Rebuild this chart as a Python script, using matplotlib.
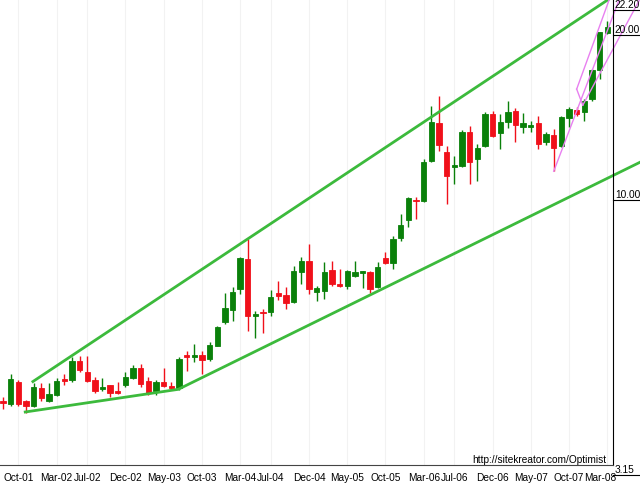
import numpy as np
import pandas as pd
import matplotlib
matplotlib.use("Agg")
import matplotlib.pyplot as plt
import matplotlib.transforms as mtransforms

# monthly candles, Aug-01 .. Mar-08
months = pd.date_range("2001-08-01", periods=80, freq="MS")

opens = [4.31, 4.25, 4.67, 4.30, 4.21, 4.54, 4.30, 4.42, 4.73, 4.71,
         5.09, 4.86, 4.71, 4.52, 4.60, 4.48, 4.60, 4.75, 4.94, 4.69,
         4.48, 4.67, 4.58, 4.54, 5.22, 5.17, 5.22, 5.13, 5.42, 6.00,
         6.30, 6.88, 7.80, 6.15, 6.25, 6.25, 6.77, 6.71, 6.52, 7.39,
         7.74, 6.80, 6.82, 7.45, 7.03, 6.97, 7.27, 7.36, 7.39, 6.94,
         7.83, 7.67, 8.53, 9.19, 10.00, 9.96, 11.78, 13.82, 12.24, 11.49,
         11.54, 13.31, 11.88, 12.55, 14.36, 13.24, 13.88, 14.54, 13.59, 13.59,
         13.82, 12.76, 13.14, 12.55, 14.11, 14.60, 14.48, 15.28, 17.27, 20.17]
highs = [4.37, 4.82, 4.71, 4.33, 4.65, 4.65, 4.65, 4.75, 4.82, 5.17,
         5.20, 5.20, 4.77, 4.75, 4.61, 4.67, 4.86, 5.00, 5.03, 4.77,
         4.71, 4.94, 4.67, 5.17, 5.31, 5.47, 5.31, 5.51, 5.90, 6.77,
         6.94, 7.87, 8.49, 6.28, 6.33, 6.85, 7.12, 6.94, 7.58, 7.87,
         8.32, 6.97, 7.70, 7.74, 7.48, 7.45, 7.74, 7.44, 7.42, 7.70,
         8.04, 8.60, 9.43, 10.13, 10.13, 11.88, 14.85, 15.48, 12.55, 12.03,
         13.42, 13.64, 12.65, 14.48, 14.54, 14.36, 15.16, 14.72, 14.42, 13.93,
         14.23, 13.31, 13.47, 14.23, 14.78, 14.78, 15.28, 17.34, 20.25, 21.21]
lows = [4.16, 4.21, 4.21, 4.09, 4.19, 4.30, 4.28, 4.39, 4.61, 4.67,
        4.86, 4.67, 4.46, 4.48, 4.37, 4.44, 4.56, 4.73, 4.56, 4.42,
        4.42, 4.56, 4.50, 4.50, 4.88, 5.07, 4.82, 5.09, 5.42, 5.95,
        6.02, 6.74, 5.77, 5.60, 5.72, 6.15, 6.57, 6.33, 6.49, 7.03,
        6.74, 6.55, 6.60, 6.97, 6.94, 6.88, 7.24, 6.91, 6.77, 6.91,
        7.64, 7.48, 8.42, 8.93, 9.23, 9.92, 11.73, 12.29, 9.83, 10.70,
        11.49, 10.70, 10.85, 12.50, 13.03, 12.39, 13.53, 12.76, 13.24, 13.31,
        12.39, 12.60, 11.29, 12.50, 13.59, 14.23, 13.93, 15.16, 16.62, 20.08]
closes = [4.26, 4.73, 4.25, 4.21, 4.56, 4.35, 4.44, 4.69, 4.69, 5.09,
          4.90, 4.69, 4.48, 4.56, 4.46, 4.46, 4.77, 4.94, 4.63, 4.46,
          4.67, 4.58, 4.54, 5.13, 5.17, 5.22, 5.11, 5.44, 5.87, 6.36,
          6.80, 7.83, 6.15, 6.20, 6.23, 6.66, 6.68, 6.49, 7.42, 7.74,
          6.88, 6.91, 7.39, 7.03, 6.97, 7.42, 7.39, 7.42, 6.88, 7.54,
          7.67, 8.49, 9.00, 10.08, 9.96, 11.73, 13.88, 12.60, 11.05, 11.59,
          13.31, 11.73, 12.44, 14.36, 13.09, 13.88, 14.48, 13.70, 13.82, 13.70,
          12.65, 13.20, 12.44, 14.17, 14.66, 14.36, 15.16, 17.27, 20.25, 20.69]

tick_labels = ["Oct-01", "Mar-02", "Jul-02", "Dec-02", "May-03", "Oct-03",
               "Mar-04", "Jul-04", "Dec-04", "May-05", "Oct-05", "Mar-06",
               "Jul-06", "Dec-06", "May-07", "Oct-07", "Mar-08"]
price_labels = [22.20, 20.00, 10.00, 3.15]

# hand drawn lines, (month index, price)
upper_trend = ([3.9, 79.7], [4.67, 23.5])
lower_trend = ([2.9, 22.9, 83.3], [4.11, 4.52, 11.73])
pink_lines = [
    ([72.0, 80.6], [11.29, 23.3]),
    ([75.0, 79.3], [15.94, 23.3]),
    ([75.0, 75.8], [15.94, 14.9]),
    ([75.8, 83.3], [14.9, 23.3]),
]

GREEN = "#0a800a"
RED = "#f0101a"
LINE_GREEN = "#3cba3c"
PINK = "#e880f0"
FONT = "Liberation Sans"

x = np.arange(len(months))
o = np.array(opens)
c = np.array(closes)
up = c >= o
colors = np.where(up, GREEN, RED)

fig = plt.figure(figsize=(6.4, 4.85), dpi=100)
ax = fig.add_axes([0, 19 / 485, 613 / 640, 466 / 485])
ax.set_yscale("log")

# candles
ax.vlines(x, lows, highs, colors=colors, lw=1)
bottoms = np.minimum(o, c)
heights = np.maximum(np.abs(c - o), 0.01)
ax.bar(x, heights, bottom=bottoms, width=0.7, color=colors,
       edgecolor=colors, lw=0.6)

# trend lines
ax.plot(*upper_trend, color=LINE_GREEN, lw=2, clip_on=True)
ax.plot(*lower_trend, color=LINE_GREEN, lw=2, clip_on=False)
for xs, ys in pink_lines:
    ax.plot(xs, ys, color=PINK, lw=1, clip_on=False)

ax.set_xlim(-0.4, 79.75)
ax.set_ylim(3.29, 23.27)

# x ticks
month_names = [d.strftime("%b-%y") for d in months]
tick_pos = [month_names.index(t) for t in tick_labels]
ax.set_xticks(tick_pos)
ax.set_xticklabels(tick_labels, fontsize=7.3, family=FONT)
ax.tick_params(axis="x", length=0, pad=5)
# last label sits inside the axis end
last = ax.get_xticklabels()[-1]
last.set_transform(last.get_transform() +
                   mtransforms.ScaledTranslation(-7 / 100, 0, fig.dpi_scale_trans))
ax.set_yticks([])
ax.yaxis.set_minor_locator(matplotlib.ticker.NullLocator())
for p in tick_pos:
    ax.axvline(p, color="#f2f2f2", lw=0.8, zorder=0)

for side in ["top", "left"]:
    ax.spines[side].set_visible(False)
ax.spines["bottom"].set_color("#444444")
ax.spines["right"].set_color("black")

# price labels on the right, underlined
trans = mtransforms.blended_transform_factory(ax.transAxes, ax.transData)
for p in price_labels:
    ax.plot([1.0, 1.05], [p, p], color="black", lw=0.8, transform=trans,
            clip_on=False)
    ax.text(1.003, p * 1.004, f"{p:.2f}", transform=trans, fontsize=7.3,
            family=FONT, va="bottom", ha="left")

ax.text(0.99, 0.003, "http://sitekreator.com/Optimist", transform=ax.transAxes,
        fontsize=7.3, family=FONT, ha="right", va="bottom")

fig.savefig("out.png", dpi=100)
